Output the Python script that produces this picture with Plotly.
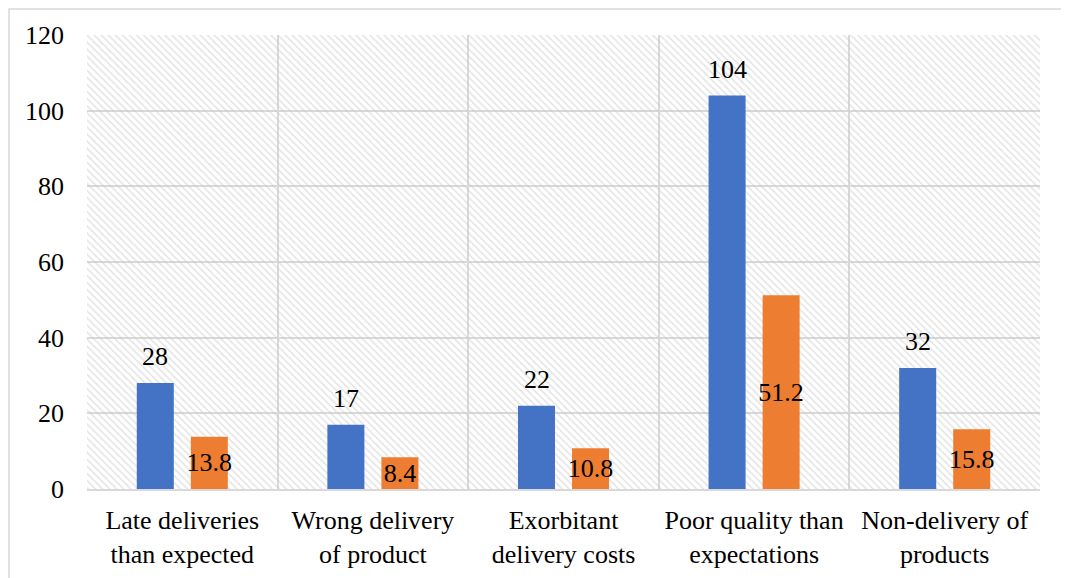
import plotly.graph_objects as go

categories = ["Late deliveries<br>than expected", "Wrong delivery<br>of product",
              "Exorbitant<br>delivery costs", "Poor quality than<br>expectations",
              "Non-delivery of<br>products"]
series_a = [28, 17, 22, 104, 32]
series_b = [13.8, 8.4, 10.8, 51.2, 15.8]
y_ticks = [0, 20, 40, 60, 80, 100, 120]

FONT = "Liberation Serif"
GRID = "#d9d9d9"
FS = 26

fig = go.Figure()

# hatched plot-area background (decorative)
fig.add_trace(go.Bar(
    x=[0.5], y=[1], width=[1], xaxis="x", yaxis="y",
    marker=dict(color="rgba(0,0,0,0)", line=dict(width=0),
                pattern=dict(shape="\\", fgcolor="#c8c8c8", size=5, solidity=0.3)),
    hoverinfo="skip", showlegend=False,
))

fig.add_trace(go.Bar(
    x=categories, y=series_a, xaxis="x2", yaxis="y2",
    marker=dict(color="#4472C4", line=dict(width=0)),
    showlegend=False,
))
fig.add_trace(go.Bar(
    x=categories, y=series_b, xaxis="x2", yaxis="y2",
    marker=dict(color="#ED7D31", line=dict(width=0)),
    text=[str(v) for v in series_b], textposition="inside", insidetextanchor="middle",
    textangle=0,
    textfont=dict(family=FONT, size=FS, color="black"),
    constraintext="none", cliponaxis=False, showlegend=False,
))

annotations = [
    dict(x=c, y=v, xref="x2", yref="y2", text=str(v), showarrow=False,
         xshift=-27, yshift=10, yanchor="bottom",
         font=dict(family=FONT, size=FS, color="black"))
    for c, v in zip(categories, series_a)
]

fig.update_layout(
    width=1069, height=578,
    margin=dict(l=79, r=37, t=27, b=97),
    paper_bgcolor="white", plot_bgcolor="white",
    barmode="group", bargap=0.433, bargroupgap=0.315,
    uniformtext=dict(minsize=FS, mode="show"),
    font=dict(family=FONT, size=FS, color="black"),
    xaxis=dict(range=[0, 1], visible=False, fixedrange=True),
    yaxis=dict(range=[0, 1], visible=False, fixedrange=True),
    xaxis2=dict(overlaying="x", type="category", tickson="boundaries",
                showgrid=True, gridcolor=GRID, gridwidth=1.5,
                showline=True, linecolor=GRID, linewidth=1.5,
                ticks="", ticklabelstandoff=7,
                tickfont=dict(family=FONT, size=FS, color="black")),
    yaxis2=dict(overlaying="y", side="left", range=[0, 120], tickvals=y_ticks,
                showgrid=True, gridcolor=GRID, gridwidth=1.5, zeroline=False,
                showline=False, ticks="", ticklabelstandoff=22,
                tickfont=dict(family=FONT, size=FS, color="black")),
    annotations=annotations,
    shapes=[dict(type="rect", xref="paper", yref="paper",
                 x0=-0.0818, x1=1.0273, y0=-0.25, y1=1.0573,
                 line=dict(color="#d9d9d9", width=1.5), fillcolor="rgba(0,0,0,0)",
                 layer="below")],
)

fig.write_html("out.html")
